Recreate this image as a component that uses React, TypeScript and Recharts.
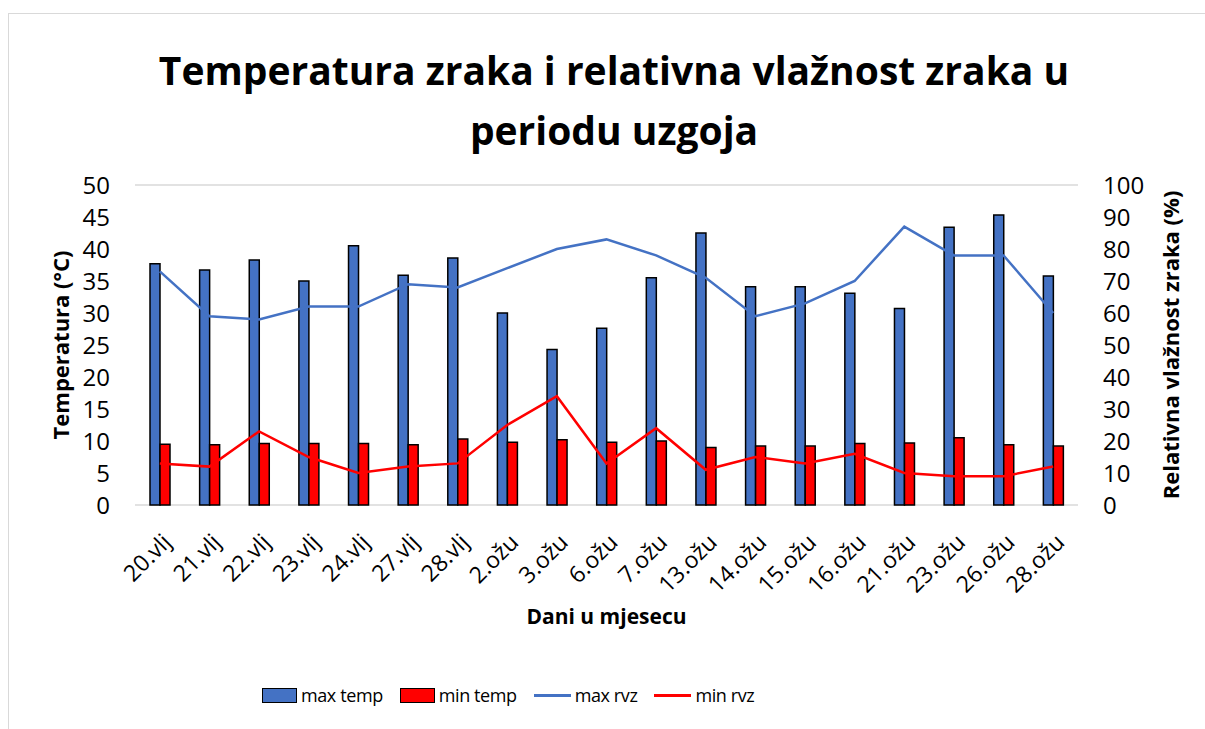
import React from "react";
import { Bar, CartesianGrid, ComposedChart, Legend, Line, XAxis, YAxis } from "recharts";

const days = [
  "20.vlj", "21.vlj", "22.vlj", "23.vlj", "24.vlj", "27.vlj", "28.vlj",
  "2.ožu", "3.ožu", "6.ožu", "7.ožu", "13.ožu", "14.ožu", "15.ožu",
  "16.ožu", "21.ožu", "23.ožu", "26.ožu", "28.ožu",
];
const maxTemp = [37.7, 36.7, 38.3, 35.0, 40.5, 35.9, 38.6, 30.0, 24.3, 27.6, 35.5, 42.5, 34.1, 34.1, 33.1, 30.7, 43.4, 45.3, 35.8];
const minTemp = [9.5, 9.4, 9.6, 9.6, 9.6, 9.4, 10.3, 9.8, 10.2, 9.8, 10.0, 9.0, 9.2, 9.2, 9.6, 9.7, 10.5, 9.4, 9.2];
const maxRvz = [73, 59, 58, 62, 62, 69, 68, 74, 80, 83, 78, 71, 59, 63, 70, 87, 78, 78, 60];
const minRvz = [13, 12, 23, 15, 10, 12, 13, 25, 34, 13, 24, 11, 15, 13, 16, 10, 9, 9, 12];
const tempTicks = [0, 5, 10, 15, 20, 25, 30, 35, 40, 45, 50];
const rvzTicks = [0, 10, 20, 30, 40, 50, 60, 70, 80, 90, 100];
const legendOrder = ["max temp", "min temp", "max rvz", "min rvz"];

const data = days.map((day, i) => ({
  day,
  maxTemp: maxTemp[i],
  minTemp: minTemp[i],
  maxRvz: maxRvz[i],
  minRvz: minRvz[i],
}));

const font = "'Open Sans', sans-serif";
const blue = "#4472c4";
const red = "#ff0000";

function DayTick({ x, y, payload }: any) {
  return (
    <g transform={`translate(${x + 7},${y + 33})`}>
      <text textAnchor="end" transform="rotate(-45)" dy="0.35em" fill="#000" fontSize={23} fontFamily={font}>
        {payload.value}
      </text>
    </g>
  );
}

function LegendContent({ payload }: any) {
  const items = [...(payload || [])].sort((a: any, b: any) => legendOrder.indexOf(a.value) - legendOrder.indexOf(b.value));
  return (
    <div style={{ display: "flex", alignItems: "center", paddingLeft: 262, height: 30, fontFamily: font, fontSize: 18, letterSpacing: -0.4, color: "#000" }}>
      {items.map((entry: any) => (
        <div key={entry.value} style={{ display: "flex", alignItems: "center", marginRight: 17 }}>
          {entry.type === "line" ? (
            <div style={{ width: 37, height: 3, background: entry.color }} />
          ) : (
            <div style={{ width: 33, height: 13, background: entry.color, border: "1.5px solid #000" }} />
          )}
          <span style={{ marginLeft: 4 }}>{entry.value}</span>
        </div>
      ))}
    </div>
  );
}

export default function App() {
  return (
    <div style={{ position: "absolute", left: 0, top: 0, width: 1205, height: 729, overflow: "hidden", background: "#fff" }}>
      <div style={{ position: "absolute", left: 8, top: 13, width: 1220, height: 740, border: "1.5px solid #d9d9d9" }} />
      <div
        style={{
          position: "absolute", left: 14, top: 40, width: 1200, textAlign: "center",
          fontFamily: font, fontWeight: 700, fontSize: 39, lineHeight: "60px", color: "#000",
        }}
      >
        Temperatura zraka i relativna vlažnost zraka u
        <br />
        periodu uzgoja
      </div>
      <div style={{ position: "absolute", left: 0, top: 0 }}>
        <ComposedChart width={1205} height={729} data={data} margin={{ top: 185, right: 0, bottom: 94, left: 0 }} barGap={0}>
          <CartesianGrid vertical={false} stroke="#d9d9d9" strokeWidth={1.5} />
          <XAxis
            dataKey="day"
            height={100}
            interval={0}
            axisLine={false}
            tickLine={false}
            tickSize={0}
            tickMargin={0}
            tick={<DayTick />}
            label={{ value: "Dani u mjesecu", position: "bottom", offset: 4, fontFamily: font, fontWeight: 700, fontSize: 21, fill: "#000" }}
          />
          <YAxis
            yAxisId="temp"
            width={135}
            domain={[0, 50]}
            ticks={tempTicks}
            interval={0}
            axisLine={false}
            tickLine={false}
            tickSize={0}
            tickMargin={25}
            tick={{ fill: "#000", fontSize: 24, fontFamily: font }}
            label={{ value: "Temperatura (°C)", angle: -90, position: "center", dx: -6, fontFamily: font, fontWeight: 700, fontSize: 22, fill: "#000" }}
          />
          <YAxis
            yAxisId="rvz"
            orientation="right"
            width={127}
            domain={[0, 100]}
            ticks={rvzTicks}
            interval={0}
            axisLine={false}
            tickLine={false}
            tickSize={0}
            tickMargin={25}
            tick={{ fill: "#000", fontSize: 24, fontFamily: font, textAnchor: "start" }}
            label={{ value: "Relativna vlažnost zraka (%)", angle: -90, position: "center", dx: 30, fontFamily: font, fontWeight: 700, fontSize: 22, fill: "#000" }}
          />
          <Bar yAxisId="temp" dataKey="maxTemp" name="max temp" barSize={10} fill={blue} stroke="#000" strokeWidth={1.5} isAnimationActive={false} />
          <Bar yAxisId="temp" dataKey="minTemp" name="min temp" barSize={10} fill={red} stroke="#000" strokeWidth={1.5} isAnimationActive={false} />
          <Line yAxisId="rvz" type="linear" dataKey="maxRvz" name="max rvz" stroke={blue} strokeWidth={2.5} dot={false} isAnimationActive={false} />
          <Line yAxisId="rvz" type="linear" dataKey="minRvz" name="min rvz" stroke={red} strokeWidth={2.5} dot={false} isAnimationActive={false} />
          <Legend
            verticalAlign="bottom"
            content={<LegendContent />}
            wrapperStyle={{ top: 680, bottom: "auto", left: 0, width: 1205 }}
          />
        </ComposedChart>
      </div>
    </div>
  );
}
